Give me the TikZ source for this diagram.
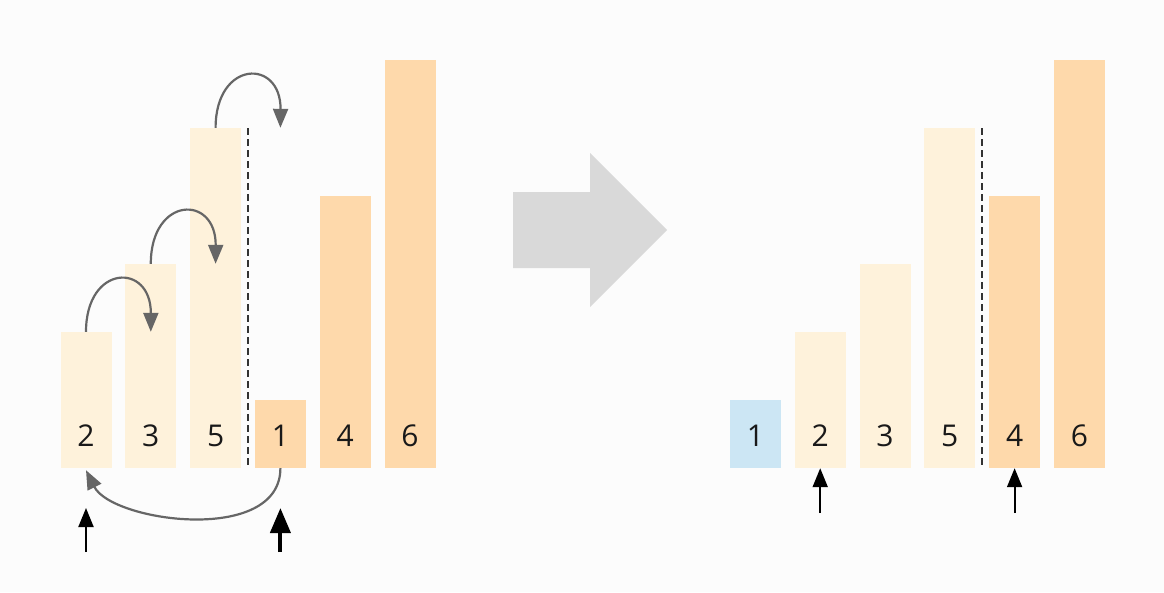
\documentclass[tikz,border=0pt]{standalone}
\usepackage{fontspec}
\setmainfont{Open Sans}
\usetikzlibrary{arrows.meta,calc}
\definecolor{bg}{HTML}{FCFCFC}
\definecolor{cream}{HTML}{FEF2DB}
\definecolor{peach}{HTML}{FED9AB}
\definecolor{skyb}{HTML}{CCE6F4}
\definecolor{arrowgray}{HTML}{D9D9D9}
\definecolor{curvegray}{HTML}{666666}
\tikzset{
  bar/.style={rectangle, inner sep=0pt, minimum width=51pt, draw=none},
  num/.style={inner sep=0pt, font=\fontsize{30}{30}\selectfont, text=black!90},
  swap/.style={draw=curvegray, line width=2.2pt, -{Triangle[length=19pt,width=15pt]}},
  ptr/.style={draw=black, line width=2pt, -{Triangle[length=19pt,width=15pt]}},
  ptrbold/.style={draw=black, line width=4pt, -{Triangle[length=25pt,width=20pt]}},
  divider/.style={draw=black!80, line width=1.5pt, dash pattern=on 7pt off 4pt}
}
\begin{document}
\begin{tikzpicture}[x=1pt,y=-1pt]
\useasboundingbox[fill=bg] (0,0) rectangle (1164,592);
% bars: name / centre x / value / colour
\foreach \n/\x/\v/\c in {La/86/2/cream, Lb/150.8/3/cream, Lc/215.6/5/cream, Ld/280.4/1/peach, Le/345.2/4/peach, Lf/410/6/peach,
                         Ra/755.4/1/skyb, Rb/820.2/2/cream, Rc/885/3/cream, Rd/949.8/5/cream, Re/1014.6/4/peach, Rf/1079.4/6/peach}{
  \pgfmathsetmacro{\h}{68*\v}
  \node[bar, fill=\c, minimum height=\h pt] (\n) at (\x, 468-\h/2) {};
  \node[num] (\n-t) at (\x, 436) {\v};
}
% dividers
\coordinate (dl1) at (248,128); \coordinate (dl2) at (248,468);
\coordinate (dr1) at (982,128); \coordinate (dr2) at (982,468);
\draw[divider] (dl1) -- (dl2);
\draw[divider] (dr1) -- (dr2);
% swap curves
\draw[swap] (La.north) .. controls (86,264) and (151,262) .. (Lb |- La.north);
\draw[swap] (Lb.north) .. controls (150.8,196) and (216,194) .. (Lc |- Lb.north);
\draw[swap] (Lc.north) .. controls (215.6,60) and (281,58) .. (Ld |- Lc.north);
\draw[swap] (Ld.south) .. controls (280.4,545) and (112,522) .. ($(La.south)+(0,2)$);
% pointers
\coordinate (pl1) at (86,552); \coordinate (pl2) at (280.4,552);
\coordinate (pl1t) at (86,508); \coordinate (pl2t) at (280.4,508);
\coordinate (pr1) at (820.2,513); \coordinate (pr2) at (1014.6,513);
\draw[ptr] (pl1) -- (pl1t);
\draw[ptrbold] (pl2) -- (pl2t);
\draw[ptr] (pr1) -- (Rb.south);
\draw[ptr] (pr2) -- (Re.south);
% big transition arrow
\fill[arrowgray] (513,192) -- (590,192) -- (590,153) -- (667,230) -- (590,307) -- (590,268) -- (513,268) -- cycle;
\end{tikzpicture}
\end{document}
